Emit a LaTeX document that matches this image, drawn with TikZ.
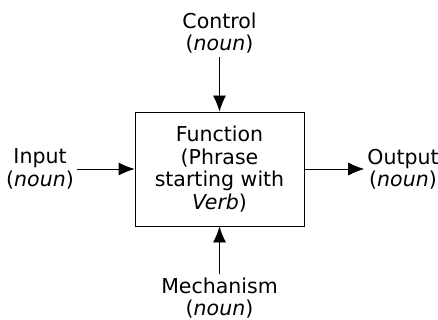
\documentclass[tikz,border=0pt]{standalone}
\usepackage{fontspec}
\setmainfont{DejaVu Sans}
\usetikzlibrary{arrows.meta}

\begin{document}
\begin{tikzpicture}[x=1pt, y=-1pt,
    every node/.style={font=\fontsize{20.5}{22.5}\selectfont, align=center, inner sep=3pt},
    arr/.style={-{Latex[length=16pt, width=13pt]}, line width=0.8pt}]
    \useasboundingbox (0,0) rectangle (438,320);
    \node [draw, line width=0.8pt, minimum width=169pt, minimum height=114pt] (func) at (219.5,169)
      {Function\\(Phrase\\starting with\\\textit{Verb})};
    \node (ctrl) at (219.5,33) {Control\\(\textit{noun})};
    \node (mech) at (219.5,298) {Mechanism\\(\textit{noun})};
    \node (inp) at (40,169) {Input\\(\textit{noun})};
    \node (outp) at (403,169) {Output\\(\textit{noun})};
    \draw [arr] (ctrl) -- (func);
    \draw [arr] (mech) -- (func);
    \draw [arr] (inp) -- (func);
    \draw [arr] (func) -- (outp);
  \end{tikzpicture}
\end{document}
